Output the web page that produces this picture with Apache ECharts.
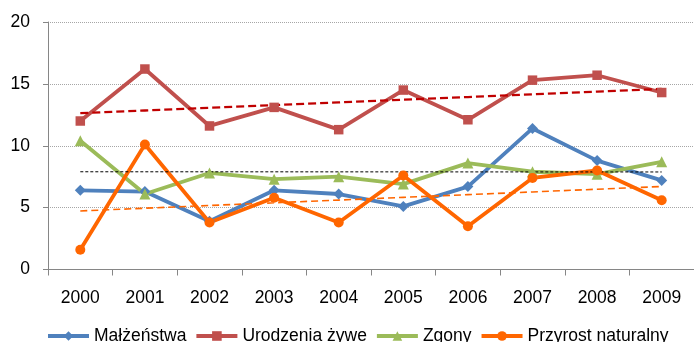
<!DOCTYPE html>
<html>
<head>
<meta charset="utf-8">
<script src="https://cdn.jsdelivr.net/npm/echarts@6/dist/echarts.min.js"></script>
<style>
  html, body { margin: 0; padding: 0; background: #fff; }
  #chart { width: 694px; height: 342px; }
</style>
</head>
<body>
<div id="chart"></div>
<script>
// Rates per 1000 inhabitants, 2000–2009
const years = ['2000', '2001', '2002', '2003', '2004', '2005', '2006', '2007', '2008', '2009'];
const malzenstwa = [6.4, 6.3, 3.9, 6.4, 6.1, 5.1, 6.7, 11.4, 8.8, 7.2];
const urodzenia = [12.0, 16.2, 11.6, 13.1, 11.3, 14.5, 12.1, 15.3, 15.7, 14.3];
const zgony = [10.4, 6.1, 7.8, 7.3, 7.5, 6.9, 8.6, 7.9, 7.7, 8.7];
const przyrost = [1.6, 10.1, 3.8, 5.8, 3.8, 7.6, 3.5, 7.4, 8.0, 5.6];
const yTicks = [0, 5, 10, 15, 20];

// Least-squares linear trend over the category index
function linearTrend(values) {
  const n = values.length;
  let sx = 0, sy = 0, sxy = 0, sxx = 0;
  values.forEach((v, i) => { sx += i; sy += v; sxy += i * v; sxx += i * i; });
  const slope = (n * sxy - sx * sy) / (n * sxx - sx * sx);
  const icpt = (sy - slope * sx) / n;
  return values.map((_, i) => +(icpt + slope * i).toFixed(3));
}

const FONT = '"Liberation Sans", Arial, sans-serif';
const chart = echarts.init(document.getElementById('chart'), null, { renderer: 'canvas' });

function mainSeries(name, data, color, symbol, size) {
  return {
    name, type: 'line', data, symbol, symbolSize: size,
    lineStyle: { color, width: 3.8 },
    itemStyle: { color },
    emphasis: { disabled: true },
    animation: false
  };
}
function trendSeries(name, data, color, width, dash) {
  return {
    name, type: 'line', data, symbol: 'none',
    lineStyle: { color, width, type: dash },
    emphasis: { disabled: true },
    animation: false, z: 3
  };
}

chart.setOption({
  animation: false,
  grid: { left: 48, top: 22, width: 653, bottom: 72.5 },
  xAxis: {
    type: 'category',
    data: years,
    boundaryGap: true,
    axisLine: { lineStyle: { color: '#868686', width: 1 } },
    axisTick: { show: true, length: 6, alignWithLabel: false, lineStyle: { color: '#868686' } },
    axisLabel: { color: '#000', fontFamily: FONT, fontSize: 17.5, margin: 20 },
    splitLine: { show: false }
  },
  yAxis: {
    type: 'value',
    min: yTicks[0], max: yTicks[yTicks.length - 1], interval: 5,
    axisLine: { show: true, lineStyle: { color: '#868686', width: 1 } },
    axisTick: { show: true, length: 5, lineStyle: { color: '#868686' } },
    axisLabel: { color: '#000', fontFamily: FONT, fontSize: 17.5, margin: 18 },
    splitLine: { show: true, lineStyle: { color: '#a6a6a6', width: 1, type: 'dotted' } }
  },
  legend: {
    data: ['Małżeństwa', 'Urodzenia żywe', 'Zgony', 'Przyrost naturalny'],
    left: 41, top: 322,
    itemWidth: 41, itemHeight: 12, itemGap: 8,
    lineStyle: { width: 4 },
    textStyle: { color: '#000', fontFamily: FONT, fontSize: 17.5 }
  },
  series: [
    mainSeries('Małżeństwa', malzenstwa, '#4F81BD', 'diamond', 11),
    mainSeries('Urodzenia żywe', urodzenia, '#C0504D', 'rect', 9.5),
    mainSeries('Zgony', zgony, '#9BBB59', 'triangle', 11),
    mainSeries('Przyrost naturalny', przyrost, '#FF6600', 'circle', 10),
    trendSeries('trend urodzenia', linearTrend(urodzenia), '#C00000', 2.3, [8, 4]),
    trendSeries('trend zgony', linearTrend(zgony), '#000000', 1, [3, 2]),
    trendSeries('trend przyrost', linearTrend(przyrost), '#FF6600', 1.6, [7, 4])
  ]
});
</script>
</body>
</html>
